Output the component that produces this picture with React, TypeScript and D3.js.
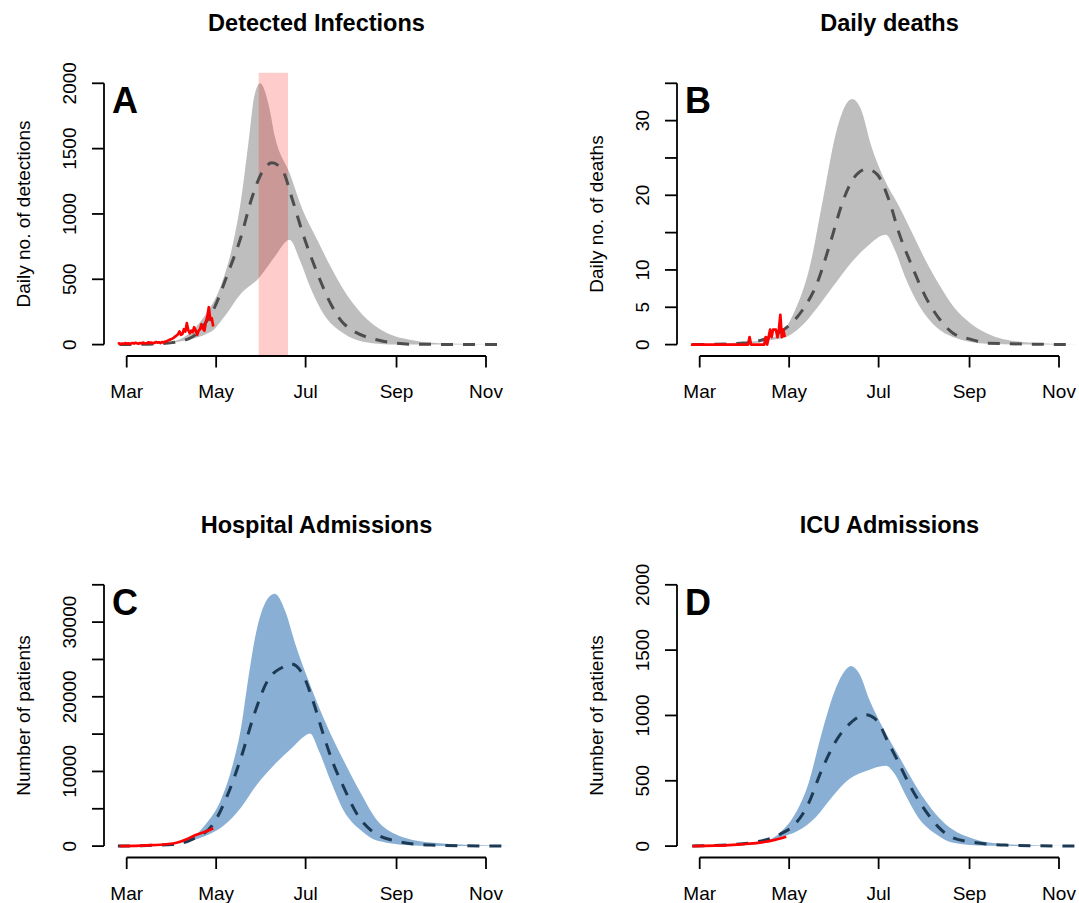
import React from 'react';
import * as d3 from 'd3';

// model bands: [date, value]
const detUpper = [
  ['2020-02-25', 0], ['2020-03-11', 3], ['2020-03-21', 8], ['2020-04-01', 22], ['2020-04-15', 110],
  ['2020-04-24', 235], ['2020-05-04', 445], ['2020-05-13', 800], ['2020-05-18', 1110], ['2020-05-23', 1545],
  ['2020-05-27', 1900], ['2020-05-31', 2000], ['2020-06-06', 1825], ['2020-06-10', 1595], ['2020-06-20', 1315],
  ['2020-06-29', 1030], ['2020-07-09', 800], ['2020-07-18', 597], ['2020-07-27', 417], ['2020-08-08', 238],
  ['2020-08-20', 123], ['2020-09-12', 33], ['2020-10-06', 8], ['2020-11-19', 0]
];
const detLower = [
  ['2020-02-25', 0], ['2020-03-11', 2], ['2020-03-21', 5], ['2020-04-01', 15], ['2020-04-15', 45],
  ['2020-04-24', 80], ['2020-04-29', 110], ['2020-05-06', 205], ['2020-05-18', 392], ['2020-05-30', 507],
  ['2020-06-10', 674], ['2020-06-20', 802], ['2020-06-27', 648], ['2020-07-04', 443], ['2020-07-13', 238],
  ['2020-07-27', 85], ['2020-08-10', 20], ['2020-09-01', 0], ['2020-11-19', 0]
];
const detMedian = [
  ['2020-02-25', 0], ['2020-03-11', 2], ['2020-03-21', 6], ['2020-04-01', 15], ['2020-04-15', 60],
  ['2020-04-22', 140], ['2020-04-29', 264], ['2020-05-09', 546], ['2020-05-18', 827], ['2020-05-25', 1110],
  ['2020-06-01', 1314], ['2020-06-08', 1391], ['2020-06-15', 1339], ['2020-06-22', 1109], ['2020-06-29', 853],
  ['2020-07-09', 546], ['2020-07-18', 315], ['2020-07-27', 161], ['2020-08-20', 33], ['2020-09-12', 3],
  ['2020-11-15', 0]
];
const detObsStart = '2020-02-24';
const detObs = [
  5, 10, 3, 8, 5, 12, 6, 10, 4, 9, 12, 8, 14, 10, 6, 12, 9, 15, 11, 8, 13, 18, 12, 15, 10, 14,
  20, 15, 18, 12, 20, 16, 22, 25, 30, 36, 40, 45, 52, 61, 70, 80, 100, 75, 82, 118, 100, 164,
  110, 87, 107, 95, 133, 110, 74, 105, 118, 156, 120, 107, 176, 214, 286, 189, 202, 138
];
const highlightRange = ['2020-05-30', '2020-06-19'];

const deathUpper = [
  ['2020-02-25', 0], ['2020-04-02', 0.1], ['2020-04-25', 1.5], ['2020-05-05', 4.6], ['2020-05-15', 10.4],
  ['2020-05-24', 19.4], ['2020-06-02', 28.4], ['2020-06-07', 31.5], ['2020-06-13', 32.9], ['2020-06-19', 31.5],
  ['2020-06-26', 26.6], ['2020-07-05', 22.1], ['2020-07-15', 18.5], ['2020-07-24', 14.9], ['2020-08-02', 11.3],
  ['2020-08-12', 7.8], ['2020-08-21', 5.1], ['2020-09-02', 2.8], ['2020-09-13', 1.5], ['2020-10-07', 0.36],
  ['2020-11-16', 0]
];
const deathLower = [
  ['2020-02-25', 0], ['2020-04-25', 0.8], ['2020-05-10', 2.6], ['2020-05-20', 4.9], ['2020-05-31', 7.8],
  ['2020-06-12', 10.9], ['2020-06-23', 13.1], ['2020-07-06', 14.7], ['2020-07-12', 12.7], ['2020-07-19', 9.1],
  ['2020-07-29', 5.1], ['2020-08-09', 2.4], ['2020-08-21', 1.0], ['2020-09-13', 0.1], ['2020-10-07', 0],
  ['2020-11-16', 0]
];
const deathMedian = [
  ['2020-02-25', 0], ['2020-03-31', 0.2], ['2020-04-20', 1.2], ['2020-04-30', 2.4], ['2020-05-10', 4.6],
  ['2020-05-20', 8.2], ['2020-05-29', 13.6], ['2020-06-07', 19.4], ['2020-06-14', 22.3], ['2020-06-23', 23.5],
  ['2020-06-30', 22.8], ['2020-07-08', 19.4], ['2020-07-15', 14.9], ['2020-07-24', 10.4], ['2020-08-02', 6.4],
  ['2020-08-12', 3.3], ['2020-08-21', 1.5], ['2020-09-02', 0.7], ['2020-09-13', 0.2], ['2020-11-12', 0]
];
const deathObsStart = '2020-02-24';
const deathObs = [
  0, 0, 0, 0, 0, 0, 0, 0, 0, 0, 0, 0, 0, 0, 0, 0, 0, 0, 0, 0, 0, 0, 0, 0, 0, 0, 0, 0, 0, 0,
  0, 0, 0, 0, 0, 0, 0, 0, 0, 0, 1, 0, 0, 0, 0, 0, 0, 0, 0, 0, 0, 1, 0, 1, 2, 1, 2, 2, 2, 1,
  2, 4, 1, 2, 1
];

const hospUpper = [
  ['2020-02-24', 0], ['2020-03-11', 60], ['2020-03-21', 150], ['2020-04-01', 270], ['2020-04-15', 1160],
  ['2020-04-24', 2950], ['2020-05-04', 6070], ['2020-05-13', 11430], ['2020-05-18', 15890], ['2020-05-22', 21250],
  ['2020-05-28', 28390], ['2020-06-03', 32410], ['2020-06-10', 33800], ['2020-06-17', 31520], ['2020-06-24', 27050],
  ['2020-07-03', 22140], ['2020-07-15', 16340], ['2020-07-27', 11430], ['2020-08-08', 6960], ['2020-08-19', 3390],
  ['2020-08-31', 1610], ['2020-09-24', 490], ['2020-11-19', 0]
];
const hospLower = [
  ['2020-02-24', 0], ['2020-03-11', 40], ['2020-03-21', 100], ['2020-04-01', 220], ['2020-04-15', 800],
  ['2020-04-24', 1384], ['2020-05-06', 2720], ['2020-05-18', 5180], ['2020-05-29', 8300], ['2020-06-10', 10980],
  ['2020-06-22', 13210], ['2020-06-29', 14550], ['2020-07-04', 15090], ['2020-07-10', 12770], ['2020-07-18', 8750],
  ['2020-07-27', 4730], ['2020-08-08', 2050], ['2020-08-19', 714], ['2020-09-17', 45], ['2020-10-07', 0],
  ['2020-11-19', 0]
];
const hospMedian = [
  ['2020-02-24', 0], ['2020-03-11', 50], ['2020-03-21', 120], ['2020-04-01', 200], ['2020-04-15', 940],
  ['2020-04-29', 2950], ['2020-05-09', 6960], ['2020-05-18', 11870], ['2020-05-27', 17680], ['2020-06-05', 22140],
  ['2020-06-15', 23930], ['2020-06-21', 24400], ['2020-06-29', 23030], ['2020-07-06', 19460], ['2020-07-13', 15000],
  ['2020-07-20', 10980], ['2020-07-27', 7860], ['2020-08-05', 4290], ['2020-08-15', 2050], ['2020-08-31', 714],
  ['2020-09-24', 134], ['2020-11-17', 0]
];
const hospObs = [
  ['2020-02-25', 0], ['2020-03-15', 100], ['2020-03-28', 250], ['2020-04-04', 450], ['2020-04-10', 840],
  ['2020-04-17', 1500], ['2020-04-24', 1950], ['2020-04-29', 2400]
];

const icuUpper = [
  ['2020-02-25', 0], ['2020-04-02', 8], ['2020-04-16', 41], ['2020-04-25', 105], ['2020-05-05', 245],
  ['2020-05-14', 474], ['2020-05-23', 857], ['2020-06-02', 1214], ['2020-06-08', 1342], ['2020-06-12', 1378],
  ['2020-06-18', 1316], ['2020-06-25', 1112], ['2020-07-05', 883], ['2020-07-14', 704], ['2020-07-23', 526],
  ['2020-08-02', 347], ['2020-08-11', 219], ['2020-08-20', 130], ['2020-09-04', 54], ['2020-09-25', 15],
  ['2020-11-16', 0]
];
const icuLower = [
  ['2020-02-25', 0], ['2020-04-15', 30], ['2020-04-25', 66], ['2020-05-07', 117], ['2020-05-19', 219],
  ['2020-05-30', 372], ['2020-06-11', 513], ['2020-06-23', 577], ['2020-07-06', 615], ['2020-07-12', 551],
  ['2020-07-19', 398], ['2020-07-28', 219], ['2020-08-09', 92], ['2020-08-20', 28], ['2020-09-13', 3],
  ['2020-11-16', 0]
];
const icuMedian = [
  ['2020-02-25', 0], ['2020-03-21', 10], ['2020-04-10', 35], ['2020-04-25', 92], ['2020-05-05', 168],
  ['2020-05-14', 321], ['2020-05-23', 577], ['2020-06-02', 806], ['2020-06-11', 934], ['2020-06-22', 1005],
  ['2020-06-30', 959], ['2020-07-07', 806], ['2020-07-14', 653], ['2020-07-23', 449], ['2020-08-02', 270],
  ['2020-08-11', 143], ['2020-08-20', 66], ['2020-09-04', 28], ['2020-09-25', 8], ['2020-11-13', 0]
];
const icuObs = [
  ['2020-02-25', 0], ['2020-03-11', 3], ['2020-03-21', 8], ['2020-03-31', 15], ['2020-04-10', 25],
  ['2020-04-15', 33], ['2020-04-20', 45], ['2020-04-25', 58], ['2020-04-29', 72]
];

const monthTicks = ['2020-03-01', '2020-05-01', '2020-07-01', '2020-09-01', '2020-11-01'];
const monthLabels = ['Mar', 'May', 'Jul', 'Sep', 'Nov'];

const FONT = "'Liberation Sans', Arial, Helvetica, sans-serif";
const parse = d3.timeParse('%Y-%m-%d');

const toPts = (arr) => arr.map(d => [parse(d[0]), d[1]]);
const daily = (start, vals) => vals.map((v, i) => [d3.timeDay.offset(parse(start), i), v]);

function Panel({ ox, oy, title, ylab, letter, yMax, yStep, yLabels, upper, lower, median, obs, obsStep, band, medColor, highlight }) {
  const x = d3.scaleTime()
    .domain([parse('2020-03-01'), parse('2020-11-01')])
    .range([126.7, 486]);
  const y = d3.scaleLinear().domain([0, yMax]).range([344.6, 83.3]);
  const plotTop = 72.8, plotBottom = 355.5;

  const smooth = d3.line().x(d => x(d[0])).y(d => y(d[1])).curve(d3.curveMonotoneX);
  const up = smooth(toPts(upper));
  const lo = smooth(toPts(lower).reverse());
  const bandPath = up + 'L' + lo.slice(1) + 'Z';
  const medPath = smooth(toPts(median));
  const obsLine = d3.line().x(d => x(d[0])).y(d => y(d[1]))
    .curve(obsStep ? d3.curveLinear : d3.curveMonotoneX);
  const obsPath = obsLine(obs);

  const yTicks = d3.range(0, yMax + 1e-9, yStep);
  const axX = 104, axY = 356;

  return (
    <g transform={`translate(${ox},${oy})`}>
      <text x={316.5} y={31} textAnchor="middle" fontFamily={FONT} fontWeight="bold" fontSize={23.5}>{title}</text>
      <path d={bandPath} fill={band} stroke="none" />
      {highlight && (
        <rect x={x(parse(highlight[0]))} y={plotTop}
          width={x(parse(highlight[1])) - x(parse(highlight[0]))} height={plotBottom - plotTop}
          fill="rgba(255,0,0,0.2)" />
      )}
      <path d={medPath} fill="none" stroke={medColor} strokeWidth={3} strokeDasharray="12,10" />
      <path d={obsPath} fill="none" stroke="#ff0000" strokeWidth={2.7} strokeLinejoin="round" />

      {/* y axis */}
      <line x1={axX} x2={axX} y1={y(0)} y2={y(yMax)} stroke="#000" strokeWidth={1.8} />
      {yTicks.map(t => (
        <line key={t} x1={axX} x2={axX - 12} y1={y(t)} y2={y(t)} stroke="#000" strokeWidth={1.8} />
      ))}
      {yLabels.map(t => (
        <text key={t} transform={`translate(76,${y(t)}) rotate(-90)`} textAnchor="middle"
          fontFamily={FONT} fontSize={19}>{t}</text>
      ))}
      <text transform={`translate(29.5,214) rotate(-90)`} textAnchor="middle" fontFamily={FONT} fontSize={19}>{ylab}</text>

      {/* x axis */}
      <line x1={x(parse(monthTicks[0]))} x2={x(parse(monthTicks[monthTicks.length - 1]))} y1={axY} y2={axY}
        stroke="#000" strokeWidth={1.8} />
      {monthTicks.map((m, i) => (
        <g key={m}>
          <line x1={x(parse(m))} x2={x(parse(m))} y1={axY} y2={axY + 11.5} stroke="#000" strokeWidth={1.8} />
          <text x={x(parse(m))} y={398} textAnchor="middle" fontFamily={FONT} fontSize={19}>{monthLabels[i]}</text>
        </g>
      ))}

      <text x={112} y={113} fontFamily={FONT} fontWeight="bold" fontSize={36}>{letter}</text>
    </g>
  );
}

export default function App() {
  const gray = '#bebebe', grayLine = '#4d4d4d';
  const blue = '#89b0d4', blueLine = '#1d3a55';
  return (
    <svg width={1079} height={903} style={{ position: 'absolute', left: 0, top: 0, background: '#fff' }}>
      <rect width={1079} height={903} fill="#fff" />
      <Panel ox={0} oy={0} title="Detected Infections" ylab="Daily no. of detections" letter="A"
        yMax={2000} yStep={500} yLabels={[0, 500, 1000, 1500, 2000]}
        upper={detUpper} lower={detLower} median={detMedian} obs={daily(detObsStart, detObs)} obsStep
        band={gray} medColor={grayLine} highlight={highlightRange} />
      <Panel ox={573} oy={0} title="Daily deaths" ylab="Daily no. of deaths" letter="B"
        yMax={35} yStep={5} yLabels={[0, 5, 10, 20, 30]}
        upper={deathUpper} lower={deathLower} median={deathMedian} obs={daily(deathObsStart, deathObs)} obsStep
        band={gray} medColor={grayLine} />
      <Panel ox={0} oy={501.5} title="Hospital Admissions" ylab="Number of patients" letter="C"
        yMax={35000} yStep={5000} yLabels={[0, 10000, 20000, 30000]}
        upper={hospUpper} lower={hospLower} median={hospMedian} obs={toPts(hospObs)}
        band={blue} medColor={blueLine} />
      <Panel ox={573} oy={501.5} title="ICU Admissions" ylab="Number of patients" letter="D"
        yMax={2000} yStep={500} yLabels={[0, 500, 1000, 1500, 2000]}
        upper={icuUpper} lower={icuLower} median={icuMedian} obs={toPts(icuObs)}
        band={blue} medColor={blueLine} />
    </svg>
  );
}
